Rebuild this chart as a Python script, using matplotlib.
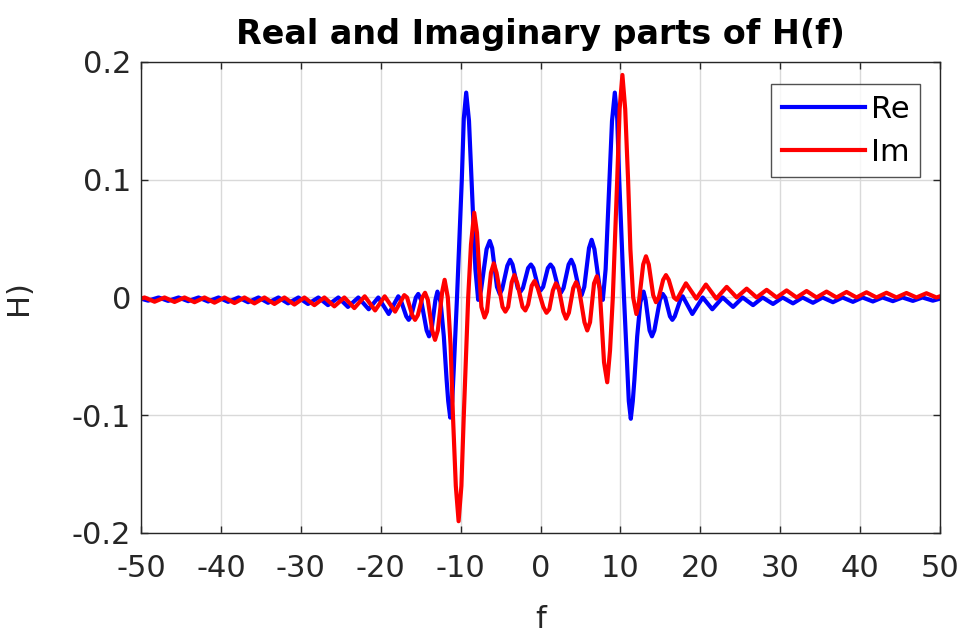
import matplotlib
matplotlib.use("Agg")
import matplotlib.pyplot as plt

# values (f, Re H) and (f, Im H)
f_re = [-50, -49.1, -47.8, -46.6, -45.3, -44.1, -42.8, -41.6, -40.3, -39.1, -37.8, -36.6,
        -35.3, -34.1, -32.8, -31.6, -30.3, -29.1, -27.8, -26.6, -25.3, -24.1, -22.8, -21.5,
        -20.3, -19.0, -17.8, -17.5, -16.8, -16.5, -16.2, -15.6, -15.3, -14.95, -14.25, -13.95,
        -13.65, -13.15, -12.9, -12.5, -12.1, -11.75, -11.55, -11.3, -11.05, -10.85, -10.45, -10.15,
        -9.85, -9.6, -9.3, -8.95, -8.55, -8.15, -7.8, -7.45, -6.75, -6.35, -6.05, -5.45,
        -5.1, -4.8, -4.15, -3.8, -3.5, -2.85, -2.5, -2.2, -1.55, -1.2, -0.9, -0.3,
        0.0,
        0.33, 0.92, 1.25, 1.58, 2.22, 2.55, 2.88, 3.52, 3.85, 4.18, 4.82, 5.15,
        5.48, 6.07, 6.4, 6.75, 7.45, 7.8, 8.15, 8.55, 8.95, 9.3, 9.6, 9.85,
        10.15, 10.45, 10.85, 11.05, 11.3, 11.55, 11.75, 12.1, 12.5, 12.9, 13.15, 13.65,
        13.95, 14.25, 14.95, 15.3, 15.6, 16.2, 16.5, 16.8, 17.5, 17.8, 19.0, 20.3,
        21.5, 22.8, 24.1, 25.3, 26.6, 27.8, 29.1, 30.3, 31.6, 32.8, 34.1, 35.3,
        36.6, 37.8, 39.1, 40.3, 41.6, 42.8, 44.1, 45.3, 46.6, 47.8, 49.1, 50]
re_vals = [-0.001, -0.0027, 0.0, -0.0029, 0.0, -0.0031, 0.0, -0.0034, 0.0, -0.0037, 0.0, -0.004,
           0.0, -0.0045, 0.0, -0.005, 0.0, -0.0055, 0.0, -0.0065, 0.0, -0.008, 0.0, -0.010,
           0.0, -0.014, 0.001, -0.002, -0.016, -0.019, -0.016, 0.0, 0.003, -0.002, -0.028, -0.033,
           -0.028, -0.002, 0.005, -0.004, -0.033, -0.070, -0.088, -0.102, -0.088, -0.060, 0.0, 0.050,
           0.100, 0.152, 0.174, 0.150, 0.088, 0.024, -0.002, 0.006, 0.041, 0.048, 0.042, 0.009,
           0.003, 0.007, 0.027, 0.032, 0.028, 0.008, 0.005, 0.008, 0.025, 0.028, 0.025, 0.009,
           0.006,
           0.009, 0.025, 0.028, 0.025, 0.008, 0.004, 0.008, 0.028, 0.032, 0.027, 0.007, 0.002,
           0.009, 0.042, 0.049, 0.041, 0.006, -0.002, 0.024, 0.088, 0.150, 0.174, 0.152, 0.100,
           0.050, 0.0, -0.060, -0.088, -0.103, -0.088, -0.070, -0.033, -0.004, 0.005, -0.002, -0.028,
           -0.033, -0.028, -0.002, 0.003, 0.0, -0.016, -0.019, -0.016, -0.002, 0.001, -0.014, 0.0,
           -0.010, 0.0, -0.008, 0.0, -0.0065, 0.0, -0.0055, 0.0, -0.005, 0.0, -0.0045, 0.0,
           -0.004, 0.0, -0.0037, 0.0, -0.0034, 0.0, -0.0031, 0.0, -0.0029, 0.0, -0.0027, -0.001]

f_im = [-50, -49.55, -48.3, -47.05, -45.8, -44.55, -43.3, -42.05, -40.8, -39.55, -38.3, -37.05,
        -35.8, -34.55, -33.3, -32.05, -30.8, -29.55, -28.3, -27.05, -25.8, -24.55, -23.3, -22.0,
        -20.7, -19.5, -18.2, -17.05, -16.7, -16.05, -15.7, -15.35, -14.8, -14.45, -14.1, -13.55,
        -13.2, -12.85, -12.3, -12.0, -11.6, -11.25, -10.96, -10.6, -10.25, -9.9, -9.6, -9.35,
        -9.05, -8.7, -8.3, -7.95, -7.4, -7.0, -6.7, -6.2, -5.85, -5.5, -4.75, -4.4,
        -4.05, -3.6, -3.27, -2.9, -2.25, -1.9, -1.55, -1.1, -0.75, -0.35,
        0.0,
        0.35, 0.75, 1.1, 1.55, 1.92, 2.28, 2.85, 3.2, 3.55, 4.1, 4.45, 4.8,
        5.5, 5.85, 6.2, 6.7, 7.05, 7.4, 7.95, 8.35, 8.7, 9.05, 9.35, 9.6,
        9.9, 10.25, 10.6, 10.96, 11.25, 11.6, 12.0, 12.3, 12.85, 13.2, 13.55, 14.1,
        14.45, 14.8, 15.35, 15.7, 16.05, 16.7, 17.05, 18.2, 19.5, 20.7, 22.0, 23.3,
        24.55, 25.8, 27.05, 28.3, 29.55, 30.8, 32.05, 33.3, 34.55, 35.8, 37.05, 38.3,
        39.55, 40.8, 42.05, 43.3, 44.55, 45.8, 47.05, 48.3, 49.55, 50]
im_vals = [-0.001, 0.0, -0.0036, 0.0, -0.0038, 0.0, -0.004, 0.0, -0.0044, 0.0, -0.0047, 0.0,
           -0.005, 0.0, -0.0055, 0.0, -0.006, 0.0, -0.0065, 0.0, -0.0075, 0.0, -0.009, 0.001,
           -0.011, 0.001, -0.012, 0.002, 0.0, -0.015, -0.019, -0.015, 0.0, 0.004, -0.002, -0.028,
           -0.036, -0.028, 0.005, 0.015, 0.0, -0.041, -0.100, -0.160, -0.190, -0.160, -0.100, -0.055,
           0.0, 0.045, 0.072, 0.055, -0.008, -0.017, -0.012, 0.021, 0.029, 0.021, -0.008, -0.012,
           -0.008, 0.013, 0.019, 0.012, -0.008, -0.011, -0.006, 0.010, 0.014, 0.008,
           0.0,
           -0.008, -0.013, -0.010, 0.006, 0.012, 0.008, -0.012, -0.018, -0.013, 0.008, 0.013, 0.008,
           -0.021, -0.028, -0.021, 0.012, 0.018, 0.008, -0.055, -0.072, -0.045, 0.0, 0.055, 0.100,
           0.160, 0.189, 0.160, 0.100, 0.041, 0.0, -0.014, -0.005, 0.028, 0.035, 0.028, 0.002,
           -0.004, 0.0, 0.015, 0.019, 0.015, 0.0, -0.002, 0.012, -0.001, 0.011, -0.001, 0.009,
           0.0, 0.0075, 0.0, 0.0065, 0.0, 0.006, 0.0, 0.0055, 0.0, 0.005, 0.0, 0.0047,
           0.0, 0.0044, 0.0, 0.004, 0.0, 0.0038, 0.0, 0.0036, 0.0, 0.001]

x_ticks = [-50, -40, -30, -20, -10, 0, 10, 20, 30, 40, 50]
y_ticks = [-0.2, -0.1, 0, 0.1, 0.2]
y_ticklabels = ["-0.2", "-0.1", "0", "0.1", "0.2"]

plt.rcParams['font.family'] = ['DejaVu Sans']
plt.rcParams['axes.unicode_minus'] = False

fig = plt.figure(figsize=(9.67, 6.41), dpi=100)
ax = fig.add_axes([0.1458, 0.1685, 0.8263, 0.7348])

ax.plot(f_re, re_vals, color=(0, 0, 1), lw=3, solid_joinstyle='round', label='Re')
ax.plot(f_im, im_vals, color=(1, 0, 0), lw=3, solid_joinstyle='round', label='Im')

ax.set_xlim(-50, 50)
ax.set_ylim(-0.2, 0.2)
ax.set_xticks(x_ticks)
ax.set_xticklabels([str(t) for t in x_ticks])
ax.set_yticks(y_ticks)
ax.set_yticklabels(y_ticklabels)
ax.grid(True, color='#d9d9d9', lw=1)
ax.set_axisbelow(True)

ax.tick_params(direction='in', length=5, width=1, top=True, right=True,
               labelsize=22, colors='#262626')
ax.tick_params(axis='x', pad=15)
ax.tick_params(axis='y', pad=7)
for s in ax.spines.values():
    s.set_color('#262626')
    s.set_linewidth(1)

ax.set_title("Real and Imaginary parts of H(f)", fontsize=24, fontweight='bold', pad=13)
ax.set_xlabel("f", fontsize=22, color='#262626', labelpad=16)
ax.set_ylabel("H)", fontsize=22, color='#262626')
ax.yaxis.set_label_coords(-0.135, 0.5)

leg = ax.legend(loc='upper right', bbox_to_anchor=(0.975, 0.953), fontsize=22,
                handlelength=2.7, frameon=True, fancybox=False, borderpad=0.35,
                labelspacing=0.45, handletextpad=0.2, borderaxespad=0)
leg.get_frame().set_edgecolor('#262626')
leg.get_frame().set_linewidth(1)

plt.savefig("out.png", dpi=100)
